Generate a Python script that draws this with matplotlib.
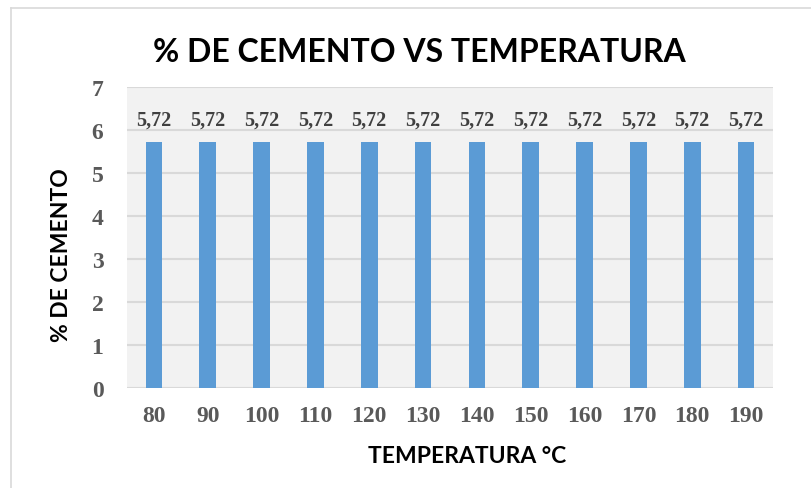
import matplotlib
matplotlib.use("Agg")
import matplotlib.pyplot as plt
from matplotlib.lines import Line2D

# Datos
temperaturas = ["80", "90", "100", "110", "120", "130", "140", "150", "160", "170", "180", "190"]
cemento = [5.72, 5.72, 5.72, 5.72, 5.72, 5.72, 5.72, 5.72, 5.72, 5.72, 5.72, 5.72]
y_ticks = [0, 1, 2, 3, 4, 5, 6, 7]

W, H = 812, 489
fig = plt.figure(figsize=(W / 100, H / 100), dpi=100)
fig.patch.set_facecolor("white")

# marco del grafico (solo lados izquierdo y superior visibles)
fig.add_artist(Line2D([11.5 / W, 11.5 / W], [0, 1 - 9 / H], transform=fig.transFigure,
                      color="#d9d9d9", lw=1.2))
fig.add_artist(Line2D([11.5 / W, 1], [1 - 9 / H, 1 - 9 / H], transform=fig.transFigure,
                      color="#d9d9d9", lw=1.2))

ax = fig.add_axes([127 / W, 1 - 389 / H, (773 - 127) / W, (389 - 88) / H])
ax.set_facecolor("#f2f2f2")

x = range(len(temperaturas))
bars = ax.bar(x, cemento, width=0.31, color="#5b9bd5", zorder=3)

ax.set_xlim(-0.5, len(temperaturas) - 0.5)
ax.set_ylim(0, 7)
ax.set_yticks(y_ticks)
ax.set_xticks(list(x))

serif = {"family": "Liberation Serif", "weight": "bold"}
ax.set_xticklabels(temperaturas, fontdict=serif, fontsize=17, color="#595959")
ax.set_yticklabels([str(v) for v in y_ticks], fontdict=serif, fontsize=17, color="#595959")
ax.tick_params(length=0)
ax.tick_params(axis="x", pad=12)
ax.tick_params(axis="y", pad=17)

ax.grid(axis="y", color="#d9d9d9", lw=1.5, zorder=1)
for s in ax.spines.values():
    s.set_visible(False)

for b, v in zip(bars, cemento):
    ax.text(b.get_x() + b.get_width() / 2, v + 0.3, f"{v:.2f}".replace(".", ","),
            ha="center", va="bottom", fontdict=serif, fontsize=14.5, color="#404040")

fig.text(419 / W, 1 - 53 / H, "% DE CEMENTO VS TEMPERATURA", ha="center", va="center",
         family="Lato", weight="bold", fontsize=23, color="black")
fig.text(467 / W, 1 - 457 / H, "TEMPERATURA °C", ha="center", va="center",
         family="Lato", weight="bold", fontsize=16.5, color="black")
fig.text(62 / W, 1 - 255 / H, "% DE CEMENTO", ha="center", va="center", rotation=90,
         family="Lato", weight="bold", fontsize=16.5, color="black")

fig.savefig("out.png", dpi=100)
